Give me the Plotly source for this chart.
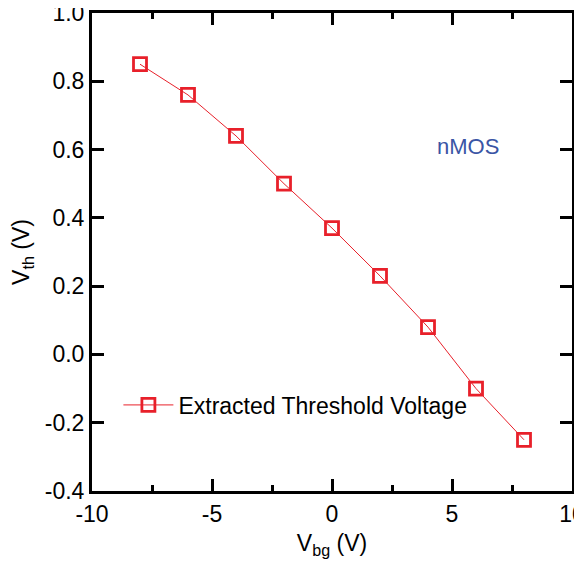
import plotly.graph_objects as go

vbg = [-8, -6, -4, -2, 0, 2, 4, 6, 8]
vth = [0.85, 0.76, 0.64, 0.50, 0.37, 0.23, 0.08, -0.10, -0.25]

x_tickvals = [-10, -5, 0, 5, 10]
x_ticktext = ["-10", "-5", "0", "5", "10"]
x_minorvals = [-7.5, -2.5, 2.5, 7.5]
y_tickvals = [-0.4, -0.2, 0.0, 0.2, 0.4, 0.6, 0.8, 1.0]
y_ticktext = ["-0.4", "-0.2", "0.0", "0.2", "0.4", "0.6", "0.8", "1.0"]

red = "#e8202a"
FONT = "Arial, Liberation Sans, sans-serif"

fig = go.Figure()
fig.add_trace(go.Scatter(
    x=vbg, y=vth, mode="lines+markers",
    name="Extracted Threshold Voltage",
    line=dict(color=red, width=1),
    marker=dict(symbol="square-open", size=13, color=red, line=dict(width=2.8, color=red)),
))

axis_common = dict(
    showline=True, linecolor="black", linewidth=3, mirror="ticks",
    ticks="inside", ticklen=12, tickwidth=3, tickcolor="black",
    showgrid=False, zeroline=False, automargin=False, ticklabeloverflow="allow",
    layer="above traces",
    tickfont=dict(family=FONT, size=23, color="black"),
)

fig.update_xaxes(
    range=[-10, 10], tickmode="array", tickvals=x_tickvals, ticktext=x_ticktext,
    minor=dict(ticks="inside", ticklen=6, tickwidth=3, tickcolor="black",
               tickmode="array", tickvals=x_minorvals, showgrid=False),
    title=dict(text="V<sub>bg</sub> (V)", font=dict(family=FONT, size=23, color="black"), standoff=10),
    **axis_common,
)
fig.update_yaxes(
    range=[-0.4, 1.0], tickmode="array", tickvals=y_tickvals, ticktext=y_ticktext,
    title=dict(text="V<sub>th</sub> (V)", font=dict(family=FONT, size=23, color="black"), standoff=12),
    **axis_common,
)

fig.add_annotation(
    x=(468 - 92) / 480, y=0.61, xref="paper", yref="y", xanchor="center",
    text="nMOS", showarrow=False,
    font=dict(family=FONT, size=22, color="#3a55a5"),
)

fig.update_layout(
    template="simple_white",
    width=574, height=553,
    margin=dict(l=84, r=10, t=5, b=70),
    plot_bgcolor="rgba(0,0,0,0)", paper_bgcolor="white",
    showlegend=True,
    legend=dict(
        x=0.055, y=0.18, xanchor="left", yanchor="middle",
        bgcolor="rgba(0,0,0,0)",
        font=dict(family=FONT, size=23, color="black"),
        itemwidth=50,
    ),
)

fig.write_html("out.html")
